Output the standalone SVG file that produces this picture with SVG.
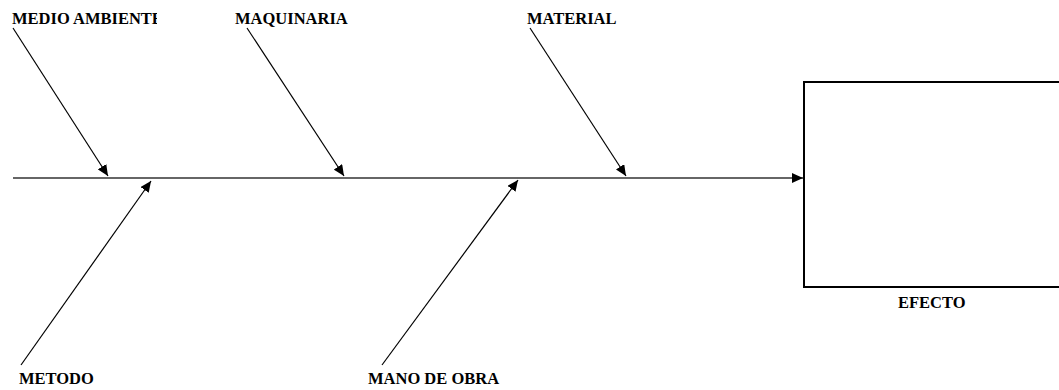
<svg xmlns="http://www.w3.org/2000/svg" width="1059" height="390" viewBox="0 0 1059 390">
<style>
.lbl{font-family:"Liberation Serif","Times New Roman",serif;font-weight:bold;font-size:16.5px;fill:#000}
.bone{stroke:#000;stroke-width:1.2;fill:none;marker-end:url(#ah)}
.spine{stroke:#333;stroke-width:1.5;fill:none;marker-end:url(#ah)}
</style>
<defs>
<marker id="ah" markerUnits="userSpaceOnUse" markerWidth="12" markerHeight="10" refX="11" refY="5" orient="auto">
<path d="M0,0 L11,5 L0,10 z" fill="#000"/>
</marker>
<clipPath id="clipMA"><rect x="0" y="0" width="157" height="40"/></clipPath>
</defs>
<rect width="1059" height="390" fill="#fff"/>
<g id="connectors">
<line class="spine" x1="13" y1="178" x2="803" y2="178"/>
<line class="bone" x1="13" y1="28" x2="108" y2="176"/>
<line class="bone" x1="247" y1="28" x2="344" y2="176"/>
<line class="bone" x1="530" y1="28" x2="626" y2="176"/>
<line class="bone" x1="21" y1="365" x2="151" y2="181"/>
<line class="bone" x1="382" y1="365" x2="518" y2="180"/>
</g>
<g id="node-medio"><text class="lbl" x="12" y="24" clip-path="url(#clipMA)">MEDIO AMBIENTE</text></g>
<g id="node-maquinaria"><text class="lbl" x="235" y="24">MAQUINARIA</text></g>
<g id="node-material"><text class="lbl" x="527" y="24">MATERIAL</text></g>
<g id="node-metodo"><text class="lbl" x="19" y="384">METODO</text></g>
<g id="node-mano"><text class="lbl" x="368" y="384">MANO DE OBRA</text></g>
<g id="node-efecto">
<rect x="804" y="82" width="260" height="205" fill="none" stroke="#000" stroke-width="2"/>
<text class="lbl" x="898" y="308">EFECTO</text>
</g>
</svg>
